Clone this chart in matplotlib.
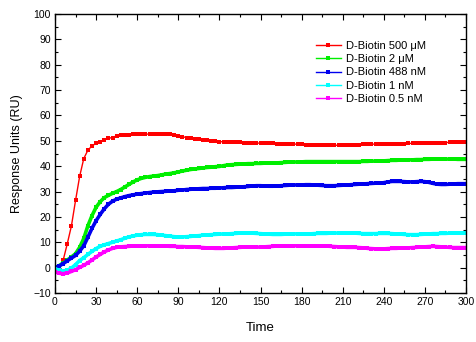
import matplotlib
matplotlib.use("Agg")
import matplotlib.pyplot as plt
from matplotlib.ticker import MultipleLocator

plt.rcParams['font.family'] = ['Liberation Sans', 'DejaVu Sans']

time = list(range(0, 301, 3))

d500uM = [0.0, 0.2, 3.0, 9.5, 16.5, 26.5, 36.0, 43.0, 46.3, 48.0, 49.0, 49.6, 50.4, 51.0, 51.3, 52.0,
          52.3, 52.4, 52.4, 52.5, 52.5, 52.6, 52.6, 52.7, 52.8, 52.8, 52.8, 52.7, 52.5, 52.3, 52.0,
          51.6, 51.3, 51.0, 50.8, 50.6, 50.4, 50.2, 50.0, 49.8, 49.7, 49.6, 49.5, 49.5, 49.4, 49.4,
          49.3, 49.2, 49.2, 49.1, 49.1, 49.0, 49.0, 49.0, 48.9, 48.9, 48.8, 48.8, 48.7, 48.7, 48.6,
          48.5, 48.4, 48.4, 48.3, 48.3, 48.2, 48.2, 48.2, 48.3, 48.3, 48.4, 48.4, 48.5, 48.5, 48.6,
          48.6, 48.7, 48.7, 48.7, 48.8, 48.8, 48.8, 48.9, 48.9, 48.9, 49.0, 49.0, 49.0, 49.1, 49.1,
          49.1, 49.2, 49.2, 49.3, 49.3, 49.4, 49.4, 49.5, 49.5, 49.6]

d2uM = [0.0, 0.8, 1.8, 3.0, 4.2, 5.5, 8.0, 11.5, 16.5, 20.5, 23.8, 26.0, 27.6, 28.5, 29.3, 30.0,
        30.8, 31.8, 32.8, 33.8, 34.6, 35.2, 35.6, 35.9, 36.1, 36.3, 36.6, 36.9, 37.1, 37.4, 37.7,
        38.1, 38.4, 38.7, 38.9, 39.1, 39.3, 39.5, 39.6, 39.8, 39.9, 40.2, 40.5, 40.6, 40.7, 40.8,
        40.9, 41.0, 41.0, 41.1, 41.1, 41.2, 41.2, 41.3, 41.3, 41.4, 41.5, 41.6, 41.6, 41.7, 41.7,
        41.8, 41.8, 41.8, 41.8, 41.8, 41.8, 41.8, 41.8, 41.8, 41.8, 41.8, 41.8, 41.8, 41.8, 41.9,
        41.9, 42.0, 42.0, 42.1, 42.1, 42.2, 42.3, 42.3, 42.4, 42.4, 42.5, 42.5, 42.6, 42.6, 42.7,
        42.7, 42.8, 42.8, 42.8, 42.8, 42.8, 42.8, 42.7, 42.7, 42.7]

d488nM = [0.0, 0.6, 1.6, 2.7, 3.8, 4.8, 6.5, 8.6, 12.0, 15.5, 18.5, 21.0, 23.2, 25.0, 26.2, 27.0,
          27.5, 28.0, 28.4, 28.7, 29.0, 29.2, 29.4, 29.6, 29.8, 29.9, 30.0, 30.1, 30.2, 30.3, 30.5,
          30.6, 30.8, 30.9, 31.0, 31.1, 31.2, 31.2, 31.3, 31.3, 31.4, 31.5, 31.6, 31.6, 31.7, 31.8,
          31.9, 32.0, 32.2, 32.3, 32.3, 32.2, 32.1, 32.1, 32.2, 32.3, 32.4, 32.5, 32.6, 32.6, 32.6,
          32.7, 32.7, 32.6, 32.5, 32.4, 32.3, 32.3, 32.3, 32.4, 32.5, 32.6, 32.7, 32.8, 32.9, 33.0,
          33.1, 33.2, 33.3, 33.3, 33.5, 33.8, 34.0, 34.0, 34.0, 33.9, 33.8, 33.8, 33.9, 34.0, 33.9,
          33.6, 33.2, 32.9, 32.8, 32.8, 32.9, 33.0, 33.1, 33.1, 33.1]

d1nM = [-0.5, -1.0, -1.4, -1.0, -0.2, 1.2, 2.8, 3.9, 5.2, 6.4, 7.5, 8.4, 9.0, 9.5, 10.0, 10.5,
        11.0, 11.6, 12.1, 12.5, 12.8, 13.0, 13.1, 13.1, 13.1, 13.0, 12.8, 12.6, 12.4, 12.2, 12.1,
        12.1, 12.2, 12.3, 12.5, 12.6, 12.8, 12.9, 13.0, 13.1, 13.2, 13.3, 13.3, 13.4, 13.5, 13.6,
        13.7, 13.7, 13.6, 13.5, 13.4, 13.3, 13.2, 13.1, 13.1, 13.1, 13.2, 13.3, 13.3, 13.3, 13.3,
        13.3, 13.3, 13.4, 13.5, 13.5, 13.5, 13.6, 13.6, 13.7, 13.7, 13.7, 13.7, 13.6, 13.5, 13.4,
        13.4, 13.4, 13.4, 13.5, 13.5, 13.5, 13.4, 13.3, 13.2, 13.1, 13.0, 13.0, 13.0, 13.1, 13.2,
        13.3, 13.4, 13.4, 13.5, 13.5, 13.6, 13.6, 13.7, 13.7, 13.7]

d05nM = [-1.6, -2.2, -2.4, -2.1, -1.5, -0.8, 0.1, 0.9, 1.9, 3.0, 4.2, 5.2, 6.2, 7.0, 7.6, 8.0,
         8.2, 8.3, 8.4, 8.5, 8.5, 8.6, 8.6, 8.6, 8.6, 8.5, 8.5, 8.5, 8.4, 8.4, 8.3,
         8.3, 8.2, 8.2, 8.1, 8.0, 7.9, 7.8, 7.7, 7.6, 7.6, 7.6, 7.7, 7.8, 7.9, 8.0,
         8.1, 8.1, 8.1, 8.1, 8.1, 8.2, 8.3, 8.4, 8.5, 8.5, 8.6, 8.6, 8.6, 8.6, 8.6,
         8.6, 8.6, 8.6, 8.6, 8.5, 8.5, 8.4, 8.3, 8.2, 8.1, 8.0, 8.0, 8.0, 7.9, 7.8,
         7.6, 7.5, 7.4, 7.4, 7.4, 7.5, 7.6, 7.6, 7.7, 7.8, 7.8, 7.9, 8.0, 8.1, 8.2,
         8.3, 8.4, 8.3, 8.2, 8.1, 8.0, 7.9, 7.9, 7.9, 7.9]

series = [
    ("D-Biotin 500 \u03bcM", d500uM, "#ff0000", 1.0),
    ("D-Biotin 2 \u03bcM", d2uM, "#00ee00", 2.6),
    ("D-Biotin 488 nM", d488nM, "#0000ee", 2.6),
    ("D-Biotin 1 nM", d1nM, "#00ffff", 2.6),
    ("D-Biotin 0.5 nM", d05nM, "#ff00ff", 2.6),
]

fig = plt.figure(figsize=(4.77, 3.42), dpi=100)
ax = fig.add_axes([0.1153, 0.1433, 0.977 - 0.1153, 0.959 - 0.1433])

for label, vals, col, lw in series:
    line, = ax.plot(time, vals, color=col, lw=lw, marker='s', ms=3.4, mew=0)
    ax.plot([], [], color=col, lw=1.0, marker='s', ms=3.4, mew=0, label=label)

ax.set_xlim(0, 300)
ax.set_ylim(-10, 100)
ax.xaxis.set_major_locator(MultipleLocator(30))
ax.xaxis.set_minor_locator(MultipleLocator(15))
ax.yaxis.set_major_locator(MultipleLocator(10))
ax.yaxis.set_minor_locator(MultipleLocator(5))
ax.tick_params(which='both', direction='in', top=True, right=True, labelsize=7.5, pad=3)
ax.tick_params(which='major', length=4, width=0.8)
ax.tick_params(which='minor', length=2, width=0.8)
for s in ax.spines.values():
    s.set_linewidth(1.0)

ax.set_xlabel("Time", fontsize=9.5, labelpad=11)
ax.set_ylabel("Response Units (RU)", fontsize=9, labelpad=7)

leg = ax.legend(loc='upper left', bbox_to_anchor=(0.615, 0.932), frameon=False, fontsize=8,
                handlelength=2.3, handletextpad=0.4, labelspacing=0.3, borderpad=0.2)

fig.savefig("out.png", dpi=100)
